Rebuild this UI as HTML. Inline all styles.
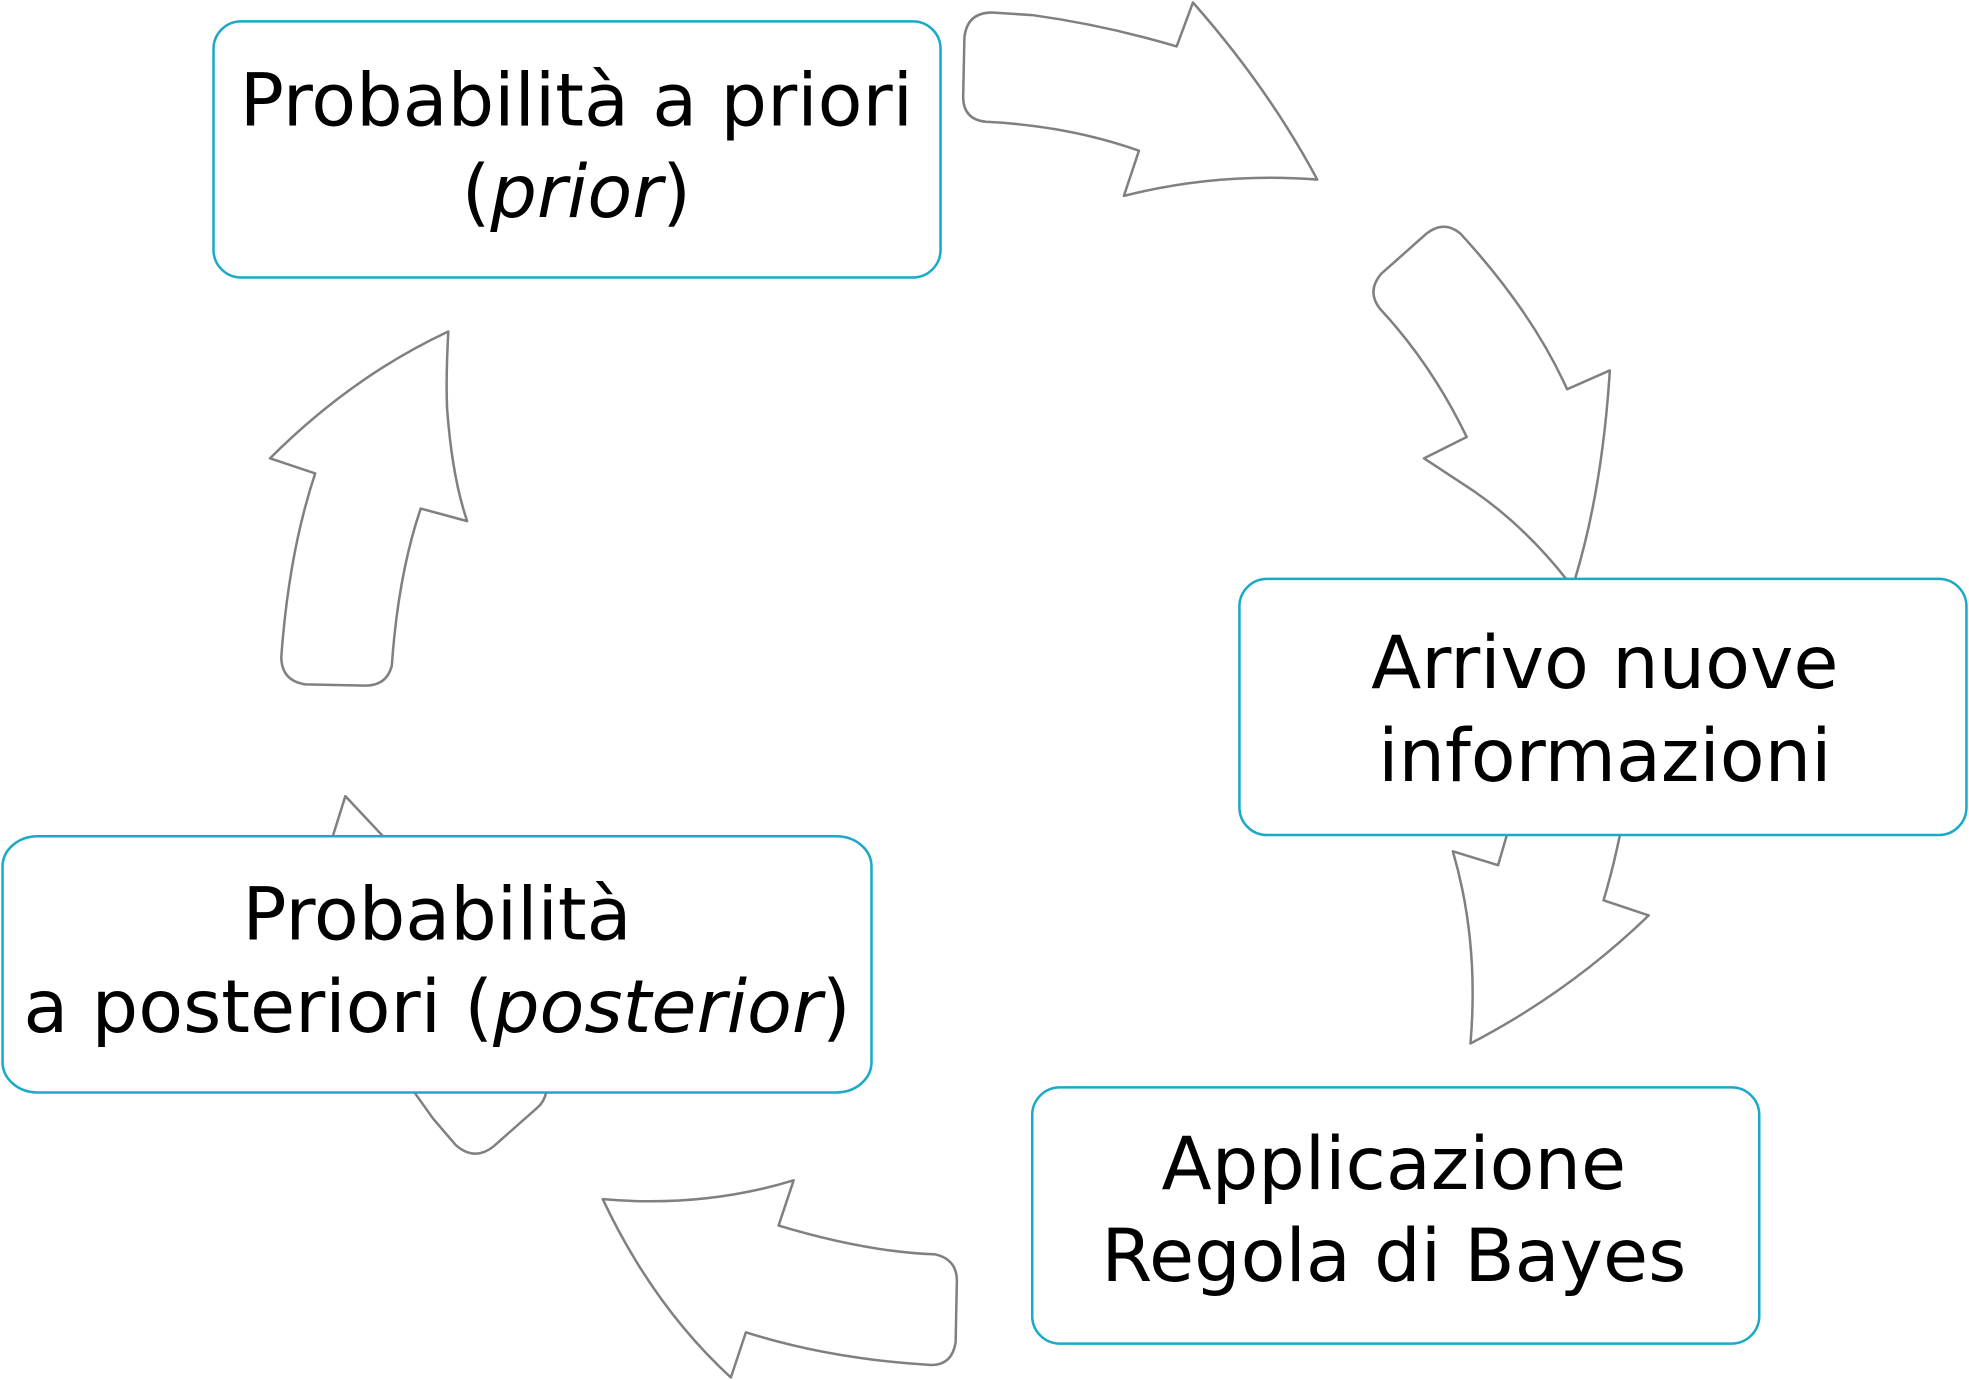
<!DOCTYPE html>
<html><head><meta charset="utf-8"><style>
html,body{margin:0;padding:0;background:#fff;}
svg{display:block;}
text{font-family:"DejaVu Sans","Liberation Sans",sans-serif;font-size:58.4px;fill:#000;}
</style></head><body>
<svg width="1969" height="1380" viewBox="0 0 1568 1099" xmlns="http://www.w3.org/2000/svg">
<g fill="#fff" stroke="#808080" stroke-width="2" stroke-linejoin="round">
<path d="M790,10 L822,12 Q880,20 937,37 L950,2 Q1010,70 1049,143 Q970,137 895,156 L907,120 Q850,100 785,97 Q767,95 767,77 L768,30 Q770,10 790,10 Z"/>
<path d="M1100,218 L1136,186 Q1150,175 1163,186 Q1220,248 1248,310 L1282,295 Q1276,390 1254,462 L1290,665 Q1285,690 1277,717 L1313,729 Q1250,790 1171,831 Q1178,750 1157,678 L1193,689 L1200,665 L1248,462 Q1215,420 1175,392 L1134,365 L1168,348 Q1140,290 1099,246 Q1088,232 1100,218 Z"/>
<path d="M632,940 L620,976 Q690,997 745,999 Q762,1003 762,1020 L761,1069 Q758,1088 740,1087 Q660,1082 594,1061 L582,1097 Q520,1040 480,955 Q560,962 632,940 Z"/>
<path d="M265,666 L275,634 Q290,650 305,666 L435,870 Q433,878 428,882 L393,913 Q378,925 363,912 L345,891 L330,870 Z"/>
<path d="M357,264 Q355,300 356,325 Q360,380 372,415 L335,405 Q317,458 312,530 Q308,546 291,546 L243,545 Q224,542 224,523 Q230,440 251,377 L215,365 Q280,300 357,264 Z"/>
</g>
<g fill="#fff" stroke="#1aa9c8" stroke-width="2">
<rect x="170" y="17" width="579" height="204" rx="22"/>
<rect x="987" y="461" width="579" height="204" rx="22"/>
<rect x="822" y="866" width="579" height="204" rx="22"/>
<rect x="2" y="666" width="692" height="204" rx="28" ry="24"/>
</g>
<g text-anchor="middle">
<text x="459" y="100">Probabilità a priori</text>
<text x="459" y="173">(<tspan font-style="italic">prior</tspan>)</text>
<text x="1278" y="548">Arrivo nuove</text>
<text x="1278" y="622">informazioni</text>
<text x="1110" y="947">Applicazione</text>
<text x="1110" y="1020">Regola di Bayes</text>
<text x="348" y="748">Probabilità</text>
<text x="348" y="822">a posteriori (<tspan font-style="italic">posterior</tspan>)</text>
</g>
</svg>
</body></html>
